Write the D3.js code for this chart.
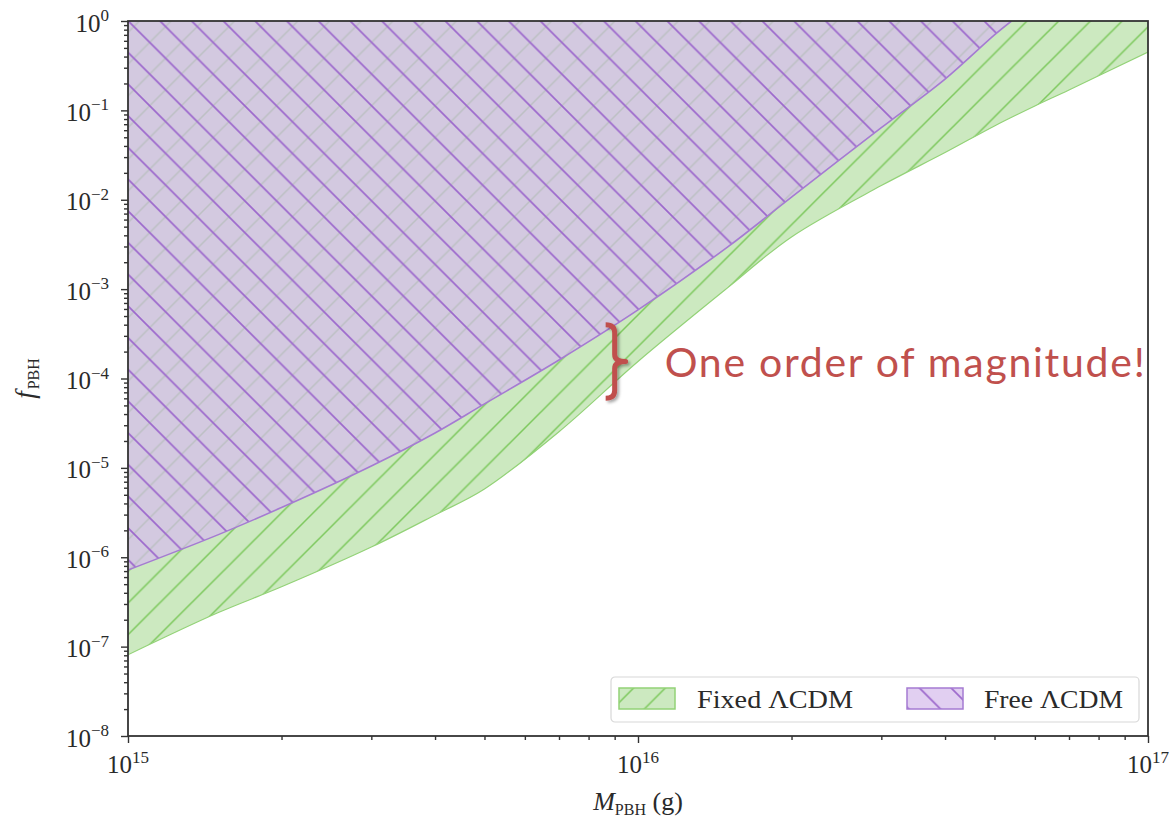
<!DOCTYPE html>
<html>
<head>
<meta charset="utf-8">
<script src="https://cdn.jsdelivr.net/npm/d3@7"></script>
<style>
  body { margin: 0; background: #fff; }
  svg text { font-family: "Liberation Serif", "DejaVu Serif", serif; fill: #2a2a2a; }
</style>
</head>
<body>
<svg id="chart" width="1176" height="825"></svg>
<script>
// PBH abundance limits: fixed vs free cosmology
const fixedMass  = [1e15, 1.5e15, 2e15, 3e15, 4e15, 5e15, 7e15, 1e16, 1.5e16, 2e16, 3e16, 4e16, 5e16, 6e16, 7e16, 1e17];
const fixedLower = [8.1e-8, 2.39e-7, 4.67e-7, 1.3e-6, 2.97e-6, 5.8e-6, 2.54e-5, 1.55e-4, 1.04e-3, 3.84e-3, 1.44e-2, 3.37e-2, 6.7e-2, 0.112, 0.169, 0.45];

const freeMass  = [1e15, 1.5e15, 2e15, 3e15, 4e15, 5e15, 7e15, 1e16, 1.5e16, 2e16, 3e16, 4e16, 5e16, 5.4e16];
const freeLower = [7.2e-7, 1.78e-6, 3.6e-6, 1.05e-5, 2.46e-5, 5.2e-5, 1.61e-4, 5.85e-4, 2.97e-3, 1.07e-2, 6.4e-2, 0.224, 0.70, 1.0];

const xTickExps = [15, 16, 17];
const yTickExps = [0, -1, -2, -3, -4, -5, -6, -7, -8];
const legendLabels = ["Fixed \u039BCDM", "Free \u039BCDM"];
const annotationText = "One order of magnitude!";
const annotationMass = 9e15;
const annotationSpan = [4e-4, 6e-5];

const plot = { left: 128, right: 1148, top: 21, bottom: 736 };
const svg = d3.select("#chart");

const x = d3.scaleLog().domain([1e15, 1e17]).range([plot.left, plot.right]);
const y = d3.scaleLog().domain([1e-8, 1]).range([plot.bottom, plot.top]);

const colors = {
  greenFill: "#cce9c0", greenHatch: "#7cc85c", greenEdge: "#93d277",
  purpleFill: "#d6bdec", purpleHatch: "#9c68cc", purpleEdge: "#a57bd2",
  red: "#c0504d"
};

const defs = svg.append("defs");
const s = 31.7;
// forward hatch "/"
const pf = defs.append("pattern").attr("id", "hatchFwd").attr("patternUnits", "userSpaceOnUse")
  .attr("x", 1.9).attr("y", 0).attr("width", s).attr("height", s);
pf.append("path")
  .attr("d", `M-2,${s+2} L${s+2},-2 M-2,2 L2,-2 M${s-2},${s+2} L${s+2},${s-2}`)
  .attr("stroke", colors.greenHatch).attr("stroke-width", 1.5).attr("fill", "none");
// back hatch "\"
const pb = defs.append("pattern").attr("id", "hatchBack").attr("patternUnits", "userSpaceOnUse")
  .attr("x", 12.2).attr("y", 0).attr("width", s).attr("height", s);
pb.append("path")
  .attr("d", `M-2,-2 L${s+2},${s+2} M${s-2},-2 L${s+2},2 M-2,${s-2} L2,${s+2}`)
  .attr("stroke", colors.purpleHatch).attr("stroke-width", 1.7).attr("fill", "none");

defs.append("clipPath").attr("id", "plotClip").append("rect")
  .attr("x", plot.left).attr("y", plot.top)
  .attr("width", plot.right - plot.left).attr("height", plot.bottom - plot.top);

const shadow = defs.append("filter").attr("id", "shadow").attr("x", "-50%").attr("y", "-20%").attr("width", "200%").attr("height", "140%");
shadow.append("feDropShadow").attr("dx", 2).attr("dy", 2).attr("stdDeviation", 1.6)
  .attr("flood-color", "#000").attr("flood-opacity", 0.35);

const fixedData = fixedMass.map((m, i) => ({ m, f: fixedLower[i] }));
const freeData = freeMass.map((m, i) => ({ m, f: freeLower[i] }));

const curve = d3.curveCatmullRom.alpha(0.5);
const area = d3.area().curve(curve)
  .x(d => x(d.m)).y0(d => y(d.f)).y1(() => y(1));
const edge = d3.line().curve(curve).x(d => x(d.m)).y(d => y(d.f));

const gPlot = svg.append("g").attr("clip-path", "url(#plotClip)");

// Fixed ΛCDM region
gPlot.append("path").attr("d", area(fixedData)).attr("fill", colors.greenFill);
gPlot.append("path").attr("d", area(fixedData)).attr("fill", "url(#hatchFwd)");
gPlot.append("path").attr("d", edge(fixedData)).attr("fill", "none")
  .attr("stroke", colors.greenEdge).attr("stroke-width", 1.2);

// Free ΛCDM region
gPlot.append("path").attr("d", area(freeData)).attr("fill", colors.purpleFill).attr("fill-opacity", 0.72);
gPlot.append("path").attr("d", area(freeData)).attr("fill", "url(#hatchBack)");
gPlot.append("path").attr("d", edge(freeData)).attr("fill", "none")
  .attr("stroke", colors.purpleEdge).attr("stroke-width", 1.6);

// Axes
const xMajor = xTickExps.map(e => Math.pow(10, e));
const xMinor = [];
for (let e = 15; e < 17; e++) for (let k = 2; k <= 9; k++) xMinor.push(k * Math.pow(10, e));
const yMajor = yTickExps.map(e => Math.pow(10, e));
const yMinor = [];
for (let e = -8; e < 0; e++) for (let k = 2; k <= 9; k++) yMinor.push(k * Math.pow(10, e));

const gx = svg.append("g").attr("transform", `translate(0,${plot.bottom})`);
gx.append("g").call(d3.axisBottom(x).tickValues(xMajor).tickSize(7).tickFormat(""));
gx.append("g").call(d3.axisBottom(x).tickValues(xMinor).tickSize(4).tickFormat(""));
const gy = svg.append("g").attr("transform", `translate(${plot.left},0)`);
gy.append("g").call(d3.axisLeft(y).tickValues(yMajor).tickSize(7).tickFormat(""));
gy.append("g").call(d3.axisLeft(y).tickValues(yMinor).tickSize(4).tickFormat(""));
svg.selectAll(".domain").remove();
svg.selectAll(".tick line").attr("stroke", "#333").attr("stroke-width", 1.4);

// tick labels as powers of ten
xTickExps.forEach(e => {
  const t = svg.append("text").attr("x", x(Math.pow(10, e))).attr("y", plot.bottom + 37)
    .attr("text-anchor", "middle").attr("font-size", 25).text("10");
  t.append("tspan").attr("dy", -10).attr("font-size", 17).text(String(e));
});
yTickExps.forEach(e => {
  const t = svg.append("text").attr("x", plot.left - 19).attr("y", y(Math.pow(10, e)) + 10.5)
    .attr("text-anchor", "end").attr("font-size", 25).text("10");
  t.append("tspan").attr("dy", -10.5).attr("font-size", 17)
    .text(e === 0 ? "0" : "\u2212" + Math.abs(e));
});

// axis titles
const xt = svg.append("text").attr("x", (plot.left + plot.right) / 2).attr("y", 810)
  .attr("text-anchor", "middle").attr("font-size", 26);
xt.append("tspan").attr("font-style", "italic").text("M");
xt.append("tspan").attr("font-size", 16).attr("dy", 5).text("PBH");
xt.append("tspan").attr("dy", -5).text(" (g)");

const yt = svg.append("text")
  .attr("transform", `translate(34,${(plot.top + plot.bottom) / 2}) rotate(-90)`)
  .attr("text-anchor", "middle").attr("font-size", 27);
yt.append("tspan").attr("font-style", "italic").text("f");
yt.append("tspan").attr("font-size", 16).attr("dy", 5).attr("dx", 2).text("PBH");

// frame
svg.append("rect").attr("x", plot.left).attr("y", plot.top)
  .attr("width", plot.right - plot.left).attr("height", plot.bottom - plot.top)
  .attr("fill", "none").attr("stroke", "#333").attr("stroke-width", 1.8);

// legend
const lg = svg.append("g").attr("transform", `translate(${plot.right - 537},${plot.bottom - 59})`);
lg.append("rect").attr("x", 0).attr("y", 0).attr("width", 528).attr("height", 45).attr("rx", 4)
  .attr("fill", "#fff").attr("fill-opacity", 0.9).attr("stroke", "#d8d8d8").attr("stroke-width", 1.2);
const legendItems = [
  { label: legendLabels[0], fill: colors.greenFill, op: 1, hatch: "url(#hatchFwd)", stroke: colors.greenEdge, px: 8, tx: 86, tw: 156 },
  { label: legendLabels[1], fill: colors.purpleFill, op: 0.72, hatch: "url(#hatchBack)", stroke: colors.purpleEdge, px: 296, tx: 373, tw: 139 }
];
legendItems.forEach(it => {
  lg.append("rect").attr("x", it.px).attr("y", 11).attr("width", 56).attr("height", 21)
    .attr("fill", it.fill).attr("fill-opacity", it.op);
  lg.append("rect").attr("x", it.px).attr("y", 11).attr("width", 56).attr("height", 21)
    .attr("fill", it.hatch).attr("stroke", it.stroke).attr("stroke-width", 1.5);
  lg.append("text").attr("x", it.tx).attr("y", 31).attr("font-size", 26)
    .attr("textLength", it.tw).attr("lengthAdjust", "spacingAndGlyphs").text(it.label);
});

// annotation: brace spanning one decade between the two limits
const bx = x(annotationMass), yT = y(annotationSpan[0]), yB = y(annotationSpan[1]), yM = (yT + yB) / 2;
svg.append("path")
  .attr("d", `M${bx-9},${yT} Q${bx},${yT} ${bx},${yT+8} L${bx},${yM-7} Q${bx},${yM} ${bx+11},${yM} Q${bx},${yM} ${bx},${yM+7} L${bx},${yB-8} Q${bx},${yB} ${bx-9},${yB}`)
  .attr("fill", "none").attr("stroke", colors.red).attr("stroke-width", 5)
  .attr("stroke-linejoin", "round").attr("filter", "url(#shadow)");
svg.append("text").attr("x", bx + 50).attr("y", yM + 15)
  .style("font-family", "Lato, 'Open Sans', sans-serif").style("fill", colors.red)
  .attr("font-size", 41).attr("textLength", 480).attr("lengthAdjust", "spacing")
  .text(annotationText);
</script>
</body>
</html>
